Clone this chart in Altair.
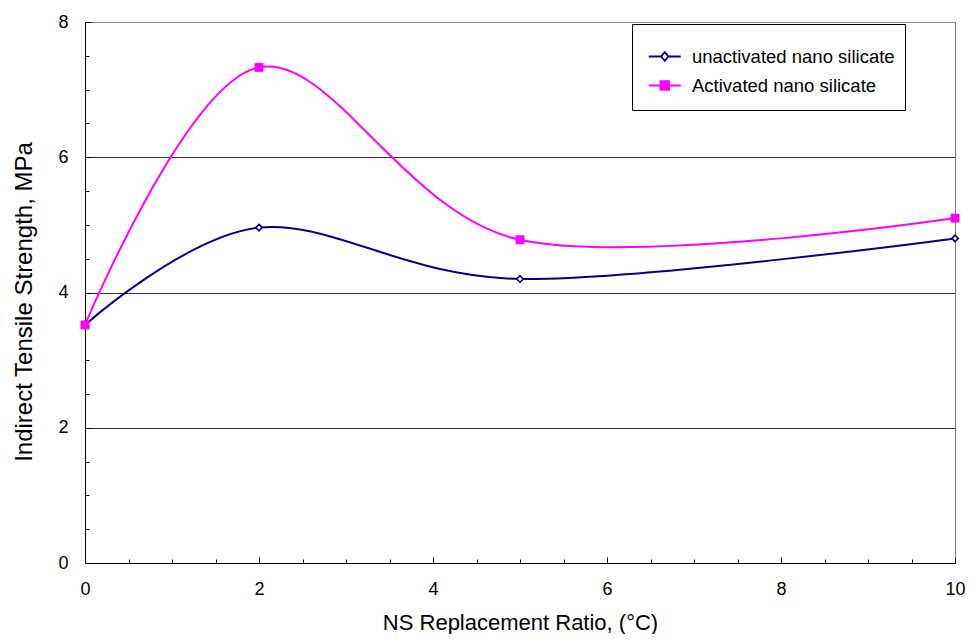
import altair as alt
import pandas as pd

# ---- data ----
ratio = [0, 2, 5, 10]
unactivated = [3.52, 4.96, 4.20, 4.80]
activated = [3.52, 7.33, 4.78, 5.10]
series_names = ["unactivated nano silicate", "Activated nano silicate"]
series_strokes = ["#000080", "#FF00FF"]
series_fills = ["#FFFFFF", "#FF00FF"]
x_labels = [0, 2, 4, 6, 8, 10]
y_labels = [0, 2, 4, 6, 8]
minor_x = [0, 0.5, 1, 1.5, 2, 2.5, 3, 3.5, 4, 4.5, 5, 5.5, 6, 6.5, 7, 7.5, 8, 8.5, 9, 9.5, 10]
minor_y = [0, 0.5, 1, 1.5, 2, 2.5, 3, 3.5, 4, 4.5, 5, 5.5, 6, 6.5, 7, 7.5, 8]

df = pd.DataFrame({
    "ratio": ratio + ratio,
    "strength": unactivated + activated,
    "series": [series_names[0]] * len(ratio) + [series_names[1]] * len(ratio),
})

FONT = "Liberation Sans"
W, H = 870, 541

x_scale = alt.Scale(domain=[0, 10], nice=False, zero=False)
y_scale = alt.Scale(domain=[0, 8], nice=False)
stroke_scale = alt.Scale(domain=series_names, range=series_strokes)
fill_scale = alt.Scale(domain=series_names, range=series_fills)
# legend symbols: short line with marker in the middle
shape_scale = alt.Scale(
    domain=series_names,
    range=[
        "M-4,0L-0.9,0M0.9,0L4,0M0,-1.1L0.9,0L0,1.1L-0.9,0Z",
        "M-4,0L4,0M-1.1,-1.1L1.1,-1.1L1.1,1.1L-1.1,1.1Z",
    ],
)

leg = alt.Legend(
    title=" ",
    titleFontSize=4,
    titlePadding=4,
    orient="none",
    legendX=547,
    legendY=2,
    strokeColor="black",
    fillColor="white",
    padding=10,
    symbolSize=64,
    symbolStrokeWidth=1.8,
    symbolOffset=13.5,
    labelOffset=18,
    labelFont=FONT,
    labelFontSize=18.5,
    labelColor="black",
    labelLimit=400,
    clipHeight=29,
    rowPadding=0,
)

lines = alt.Chart(df).mark_line(interpolate="cardinal", strokeWidth=2).encode(
    x=alt.X(
        "ratio:Q",
        scale=x_scale,
        axis=alt.Axis(
            values=x_labels,
            ticks=False,
            grid=True,
            gridColor="#808080",
            gridOpacity={"condition": {"test": "datum.value == 10", "value": 1}, "value": 0},
            domainColor="black",
            domainWidth=1,
            labelFont=FONT,
            labelFontSize=18,
            labelColor="black",
            labelPadding=17,
            labelFlush=False,
            title="NS Replacement Ratio, (°C)",
            titleFont=FONT,
            titleFontSize=22,
            titleFontWeight="normal",
            titleColor="black",
            titleBaseline="alphabetic",
            titleX=435,
            titleY=66,
            format="d",
        ),
    ),
    y=alt.Y(
        "strength:Q",
        scale=y_scale,
        axis=alt.Axis(
            values=y_labels,
            ticks=False,
            grid=True,
            gridColor={"condition": {"test": "datum.value == 8", "value": "#808080"}, "value": "#303030"},
            gridOpacity={"condition": {"test": "datum.value == 0", "value": 0}, "value": 1},
            domainColor="black",
            domainWidth=1,
            labelFont=FONT,
            labelFontSize=18,
            labelColor="black",
            labelPadding=17,
            labelFlush=False,
            title="Indirect Tensile Strength, MPa",
            titleFont=FONT,
            titleFontSize=24,
            titleFontWeight="normal",
            titleColor="black",
            titleBaseline="alphabetic",
            titleX=-53.5,
            titleY=279.5,
            format="d",
        ),
    ),
    stroke=alt.Stroke("series:N", scale=stroke_scale, legend=leg),
)

tick_size = {"condition": {"test": "datum.value % 2 == 0", "value": 6}, "value": 4}
ticks_layer = alt.Chart(df).transform_filter("false").mark_point().encode(
    x=alt.X(
        "ratio:Q",
        scale=x_scale,
        axis=alt.Axis(orient="top", offset=-H, values=minor_x, labels=False, domain=False,
                      grid=False, title=None, tickColor="black", tickWidth=1, tickSize=tick_size),
    ),
    y=alt.Y(
        "strength:Q",
        scale=y_scale,
        axis=alt.Axis(orient="right", offset=-W, values=minor_y, labels=False, domain=False,
                      grid=False, title=None, tickColor="black", tickWidth=1, tickSize=tick_size),
    ),
)

pts_u = alt.Chart(df).transform_filter(alt.datum.series == series_names[0]).mark_point(
    shape="diamond", size=42, filled=True, fill="#FFFFFF", stroke=series_strokes[0],
    strokeWidth=1.6, opacity=1,
).encode(
    x=alt.X("ratio:Q", scale=x_scale, axis=None),
    y=alt.Y("strength:Q", scale=y_scale, axis=None),
)

pts_a = alt.Chart(df).transform_filter(alt.datum.series == series_names[1]).mark_point(
    shape="square", size=64, filled=True, fill=series_strokes[1], stroke=series_strokes[1],
    strokeWidth=1, opacity=1,
).encode(
    x=alt.X("ratio:Q", scale=x_scale, axis=None),
    y=alt.Y("strength:Q", scale=y_scale, axis=None),
)

legend_layer = alt.Chart(df).transform_filter("false").mark_point(filled=True, opacity=1).encode(
    x=alt.X("ratio:Q", scale=x_scale, axis=None),
    y=alt.Y("strength:Q", scale=y_scale, axis=None),
    stroke=alt.Stroke("series:N", scale=stroke_scale, legend=leg),
    fill=alt.Fill("series:N", scale=fill_scale, legend=leg),
    shape=alt.Shape("series:N", scale=shape_scale, legend=leg),
)

chart = (
    alt.layer(lines, ticks_layer, pts_u, pts_a, legend_layer)
    .resolve_axis(x="independent", y="independent")
    .properties(
        width=W,
        height=H,
        autosize=alt.AutoSizeParams(type="none"),
        padding={"left": 77, "top": 14, "right": 16, "bottom": 71},
        background="white",
    )
    .configure_view(stroke="transparent")
    .configure(font=FONT)
)

chart.save("out.html", embed_options={"renderer": "svg", "actions": False})
